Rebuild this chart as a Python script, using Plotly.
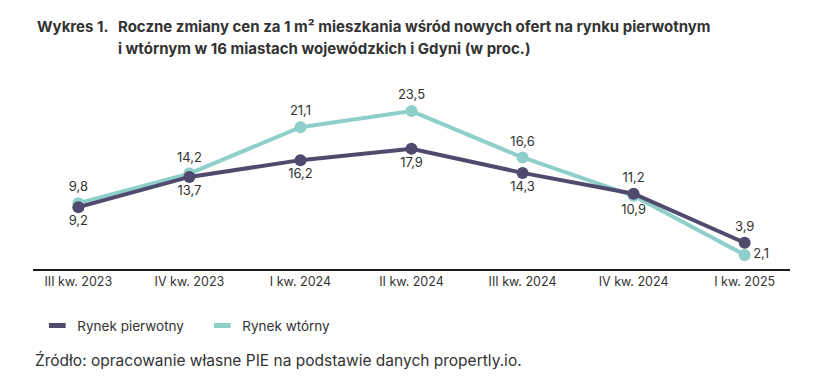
import plotly.graph_objects as go

categories = ["III kw. 2023", "IV kw. 2023", "I kw. 2024", "II kw. 2024",
              "III kw. 2024", "IV kw. 2024", "I kw. 2025"]
pierwotny = [9.2, 13.7, 16.2, 17.9, 14.3, 11.2, 3.9]
wtorny = [9.8, 14.2, 21.1, 23.5, 16.6, 10.9, 2.1]
pierwotny_pos = ["bottom center"] * 5 + ["top center", "top center"]
wtorny_pos = ["top center"] * 5 + ["bottom center", "middle right"]

PURPLE = "#4f4a6e"
TEAL = "#8ecfca"
TXT = "#333333"
FONT = "Inter"

def fmt(v):
    return f"{v:.1f}".replace(".", ",")

# page body has an 8px margin; work in reference-pixel coordinates
OFF = 8
W, H = 836 - OFF, 383 - OFF
PLOT_LEFT, PLOT_RIGHT, PLOT_BOTTOM, PLOT_TOP = 32.7, 790, 269, 100.5
L = PLOT_LEFT - OFF
R = W - (PLOT_RIGHT - OFF)
B = H - (PLOT_BOTTOM - OFF)
T = PLOT_TOP - OFF
PH = PLOT_BOTTOM - PLOT_TOP
PW = PLOT_RIGHT - PLOT_LEFT

def px_x(px):
    return (px - PLOT_LEFT) / PW

def px_y(py):
    return (PLOT_BOTTOM - py) / PH

fig = go.Figure()
fig.add_trace(go.Scatter(
    x=categories, y=wtorny, mode="lines+markers+text",
    line=dict(color=TEAL, width=4), marker=dict(color=TEAL, size=12),
    text=[fmt(v) for v in wtorny], textposition=wtorny_pos,
    textfont=dict(size=13, color=TXT, family=FONT),
    showlegend=False, cliponaxis=False, hoverinfo="skip"))
fig.add_trace(go.Scatter(
    x=categories, y=pierwotny, mode="lines+markers+text",
    line=dict(color=PURPLE, width=4), marker=dict(color=PURPLE, size=12),
    text=[fmt(v) for v in pierwotny], textposition=pierwotny_pos,
    textfont=dict(size=13, color=TXT, family=FONT),
    showlegend=False, cliponaxis=False, hoverinfo="skip"))

for name, col in [("Rynek pierwotny", PURPLE), ("Rynek wtórny", TEAL)]:
    fig.add_trace(go.Scatter(
        x=[None], y=[None], mode="markers", name=name,
        marker=dict(symbol="line-ew", size=12, color=col,
                    line=dict(color=col, width=5))))

fig.update_layout(
    width=W, height=H,
    margin=dict(l=L, r=R, t=T, b=B),
    paper_bgcolor="white", plot_bgcolor="white",
    font=dict(family=FONT, color=TXT, size=12),
    xaxis=dict(type="category", showgrid=False, showline=True,
               linecolor="#1a1a1a", linewidth=1.5, ticks="",
               tickfont=dict(size=12.5, color=TXT), fixedrange=True),
    yaxis=dict(range=[0, 25], visible=False, showgrid=False,
               zeroline=False, fixedrange=True),
    showlegend=True,
    legend=dict(orientation="h", x=px_x(37), xanchor="left",
                y=px_y(326), yanchor="middle",
                font=dict(size=13.5, color=TXT, family=FONT),
                itemwidth=30, entrywidth=120, entrywidthmode="pixels",
                bgcolor="rgba(0,0,0,0)"),
    annotations=[
        dict(text="<b>Wykres 1.</b>", xref="paper", yref="paper",
             x=px_x(35), y=px_y(26), xanchor="left", yanchor="middle",
             showarrow=False, font=dict(size=15, color=TXT, family=FONT)),
        dict(text="<b>Roczne zmiany cen za 1 m² mieszkania wśród nowych ofert na rynku pierwotnym</b>",
             xref="paper", yref="paper",
             x=px_x(116), y=px_y(26), xanchor="left", yanchor="middle",
             showarrow=False, font=dict(size=15, color=TXT, family=FONT)),
        dict(text="<b>i wtórnym w 16 miastach wojewódzkich i Gdyni (w proc.)</b>",
             xref="paper", yref="paper",
             x=px_x(116), y=px_y(48), xanchor="left", yanchor="middle",
             showarrow=False, font=dict(size=15, color=TXT, family=FONT)),
        dict(text="Źródło: opracowanie własne PIE na podstawie danych propertly.io.",
             xref="paper", yref="paper",
             x=px_x(33), y=px_y(360), xanchor="left", yanchor="middle",
             showarrow=False, font=dict(size=15.5, color=TXT, family=FONT)),
    ],
)

fig.write_html("out.html")
